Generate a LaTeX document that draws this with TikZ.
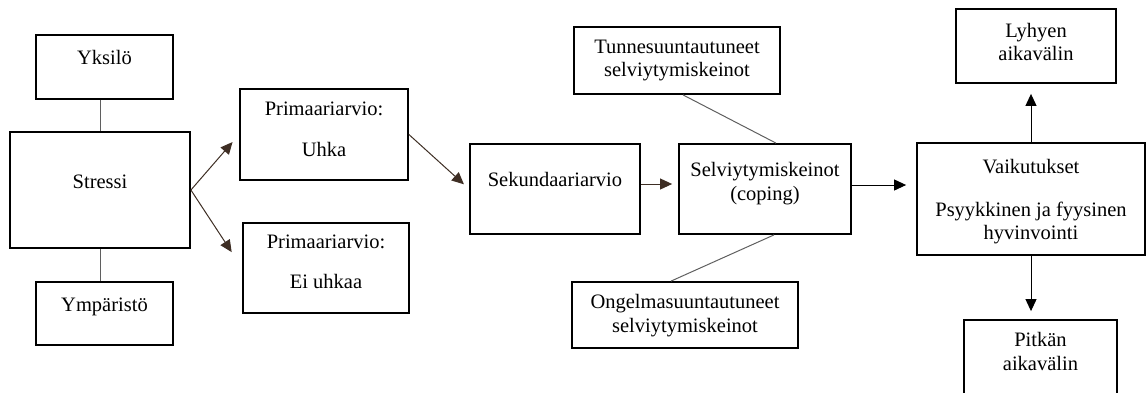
\documentclass[tikz,border=0pt]{standalone}
\usepackage{fontspec}
\setmainfont{Liberation Serif}
\usepackage{tikz}
\usetikzlibrary{arrows.meta}

\definecolor{arrowbrown}{RGB}{62,46,36}
\definecolor{linegray}{RGB}{95,95,95}

% text lines of a box, raised by #1 pt
\newcommand{\boxlines}[2]{\raisebox{#1pt}[\height][\depth]{\begin{tabular}{@{}c@{}}#2\end{tabular}}}

\tikzset{
  box/.style={draw=black, line width=1.8pt, font=\fontsize{20.5}{23.5}\selectfont},
  link/.style={draw=linegray, line width=1pt},
  arr/.style={draw=#1, line width=1pt, -{Triangle[length=12pt,width=11pt]}},
  arr/.default=black
}

\begin{document}
\begin{tikzpicture}[x=1pt,y=-1pt]
        \useasboundingbox (0,0) rectangle (1146,392);
        % stressi and its sources
        \node[box, minimum width=137pt, minimum height=64pt] (yksilo) at (104.5,67) {\boxlines{7.5}{Yksilö}};
        \node[box, minimum width=180pt, minimum height=116pt] (stressi) at (100,190) {\boxlines{6}{Stressi}};
        \node[box, minimum width=137pt, minimum height=63pt] (ymparisto) at (104.5,313.5) {\boxlines{6.5}{Ympäristö}};
        % appraisals
        \node[box, minimum width=168pt, minimum height=91pt] (uhka) at (324,134.5) {\boxlines{3}{Primaariarvio:\\[17pt] Uhka}};
        \node[box, minimum width=166pt, minimum height=90pt] (eiuhka) at (326,268) {\boxlines{4}{Primaariarvio:\\[17pt] Ei uhkaa}};
        \node[box, minimum width=170pt, minimum height=90pt] (sekund) at (555,189) {\boxlines{7.5}{Sekundaariarvio}};
        % coping
        \node[box, minimum width=172pt, minimum height=90pt] (selv) at (765,189) {\boxlines{5}{Selviytymiskeinot\\(coping)}};
        \node[box, minimum width=206pt, minimum height=67pt] (tunne) at (677,60.5) {\boxlines{0}{Tunnesuuntautuneet\\selviytymiskeinot}};
        \node[box, minimum width=226pt, minimum height=66pt] (ongelma) at (685,315) {\boxlines{-1}{Ongelmasuuntautuneet\\selviytymiskeinot}};
        % effects
        \node[box, minimum width=228pt, minimum height=112pt] (vaik) at (1031,199) {\boxlines{-3}{Vaikutukset\\[19pt] Psyykkinen ja fyysinen\\hyvinvointi}};
        \node[box, minimum width=160pt, minimum height=74pt] (lyhyen) at (1036,46) {\boxlines{1.5}{Lyhyen\\aikavälin}};
        \node[box, minimum width=153pt, minimum height=78pt] (pitkan) at (1040.5,359) {\boxlines{5}{Pitkän\\aikavälin}};

        \draw[link] (stressi.north) -- (stressi.north |- yksilo.south);
        \draw[link] (stressi.south) -- (stressi.south |- ymparisto.north);
        \draw[arr=arrowbrown, shorten >=10pt] (stressi.east) -- (uhka.west);
        \draw[arr=arrowbrown, shorten >=19pt] (stressi.east) -- (eiuhka.west);
        \draw[arr=arrowbrown, shorten >=7pt] (uhka.east) -- (sekund.west);
        \draw[arr=arrowbrown, shorten >=6pt] ([yshift=5pt]sekund.east) -- ([yshift=5pt]selv.west);
        \draw[link] ([xshift=6pt]tunne.south) -- ([xshift=11pt]selv.north);
        \draw[link] ([xshift=9pt]selv.south) -- ([xshift=-14pt]ongelma.north);
        \draw[arr, shorten >=10pt] ([yshift=4pt]selv.east) -- ([yshift=4pt]selv.east -| vaik.west);
        \draw[arr, shorten >=10pt] (vaik.north) -- (vaik.north |- lyhyen.south);
        \draw[arr, shorten >=8pt] (vaik.south) -- (vaik.south |- pitkan.north);
    \end{tikzpicture}
\end{document}
